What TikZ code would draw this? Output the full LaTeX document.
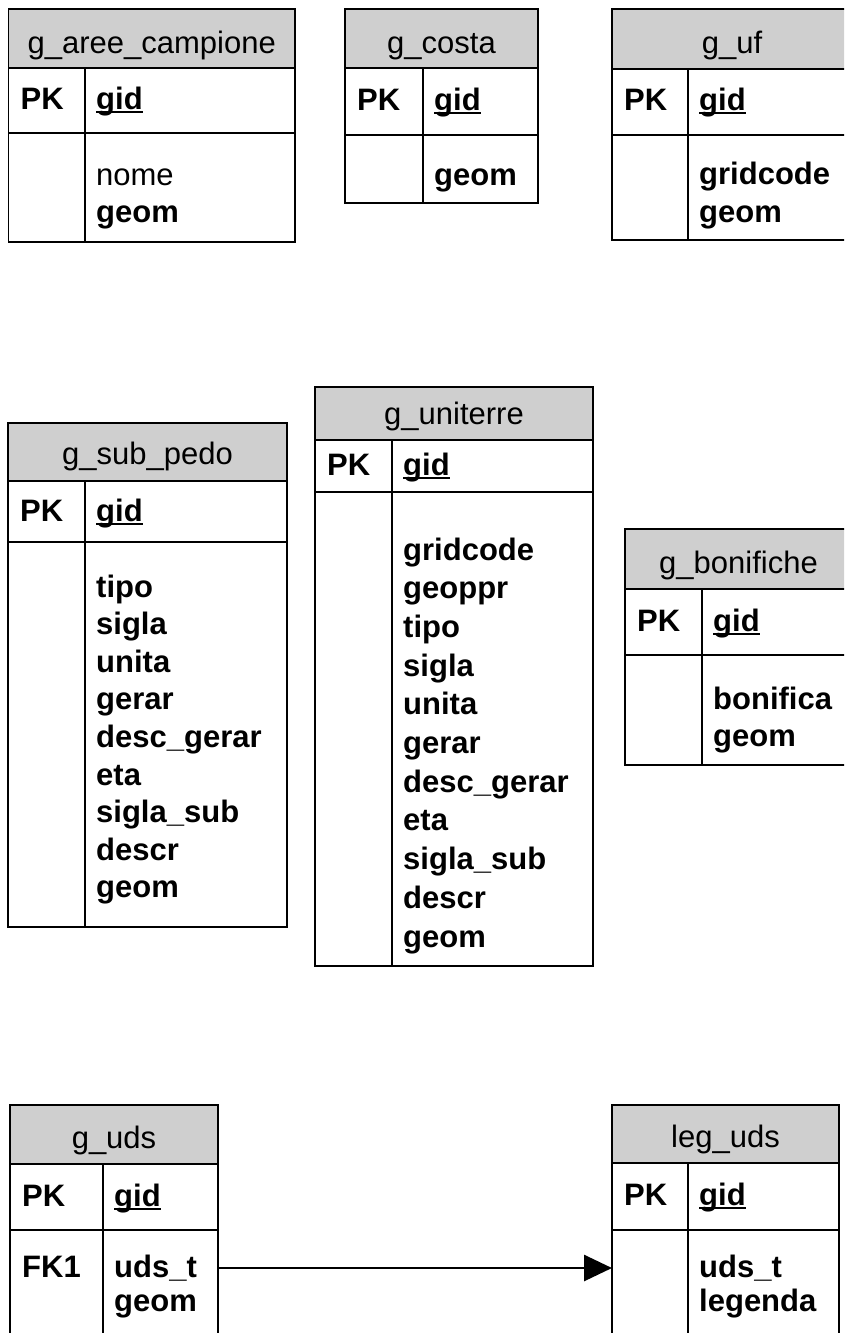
\documentclass[tikz,border=0pt]{standalone}
\usepackage{fontspec}
\setmainfont{Liberation Sans}
\usetikzlibrary{arrows.meta}
\definecolor{hdrgray}{HTML}{CFCFCF}
\newcommand\pkul[1]{\setbox0\hbox{#1}\rlap{\rule[-4pt]{\wd0}{2pt}}\box0}
\tikzset{
 tline/.style={line width=1.8pt},
 tbox/.style={draw, line width=1.8pt, inner sep=0pt, outer sep=0pt, rectangle},
 ttl/.style={font=\fontsize{31}{36}\selectfont, anchor=base, inner sep=0pt},
 key/.style={font=\fontsize{31}{36}\selectfont\bfseries, anchor=base west, inner sep=0pt},
 fld/.style={font=\fontsize{31}{36}\selectfont\bfseries, anchor=base west, inner sep=0pt},
 fldr/.style={font=\fontsize{31}{36}\selectfont, anchor=base west, inner sep=0pt},
 conn/.style={line width=2.8pt, -{Triangle[length=28pt,width=26pt]}},
}
% name, L, R, D, T, H, P, B
\newcommand\ertable[8]{%
 \fill[hdrgray] (#2,#5) rectangle (#3,#6);
 \draw[tline] (#2,#6) -- (#3,#6) (#2,#7) -- (#3,#7) (#4,#6) -- (#4,#8);
 \node[tbox, anchor=north west, minimum width={#3pt-#2pt}, minimum height={#8pt-#5pt}] (#1) at (#2,#5) {};
}
\begin{document}
\begin{tikzpicture}[x=1pt,y=-1pt]
\useasboundingbox (0,0) rectangle (844,1333);
\clip (0,0) rectangle (844,1333);

% g_aree_campione
\ertable{aree}{8.5}{295}{85}{9}{68}{133}{242}
\node[ttl] (aree-t) at (151.75,53) {g\_aree\_campione};
\node[key] (aree-k) at (20.5,109) {PK};
\node[fld] (aree-id) at (96,109) {\pkul{gid}};
\node[fldr] (aree-f0) at (96,185) {nome};
\node[fld] (aree-f1) at (96,222) {geom};

% g_costa
\ertable{costa}{345}{538}{423}{9}{68}{135}{203}
\node[ttl] (costa-t) at (441.5,53) {g\_costa};
\node[key] (costa-k) at (357,110) {PK};
\node[fld] (costa-id) at (434,110) {\pkul{gid}};
\node[fld] (costa-f0) at (434,185) {geom};

% g_uf
\ertable{uf}{612}{852}{688}{9}{69}{135}{240}
\node[ttl] (uf-t) at (732,53) {g\_uf};
\node[key] (uf-k) at (624,110) {PK};
\node[fld] (uf-id) at (699,110) {\pkul{gid}};
\node[fld] (uf-f0) at (699,184) {gridcode};
\node[fld] (uf-f1) at (699,222) {geom};

% g_sub_pedo
\ertable{sub}{8}{287}{85}{423}{481}{542}{927}
\node[ttl] (sub-t) at (147.5,464) {g\_sub\_pedo};
\node[key] (sub-k) at (20,521) {PK};
\node[fld] (sub-id) at (96,521) {\pkul{gid}};
\foreach \t [count=\i from 0] in {tipo,sigla,unita,gerar,desc\_gerar,eta,sigla\_sub,descr,geom}
  \node[fld] (sub-f\i) at (96,{597+37.6*\i}) {\t};

% g_uniterre
\ertable{uni}{315}{593}{392}{387}{440}{492}{966}
\node[ttl] (uni-t) at (454,424) {g\_uniterre};
\node[key] (uni-k) at (327,475) {PK};
\node[fld] (uni-id) at (403,475) {\pkul{gid}};
\foreach \t [count=\i from 0] in {gridcode,geoppr,tipo,sigla,unita,gerar,desc\_gerar,eta,sigla\_sub,descr,geom}
  \node[fld] (uni-f\i) at (403,{560+38.7*\i}) {\t};

% g_bonifiche
\ertable{bon}{625}{852}{702}{529}{589}{655}{765}
\node[ttl] (bon-t) at (738.5,573) {g\_bonifiche};
\node[key] (bon-k) at (637,631) {PK};
\node[fld] (bon-id) at (713,631) {\pkul{gid}};
\node[fld] (bon-f0) at (713,709) {bonifica};
\node[fld] (bon-f1) at (713,746) {geom};

% g_uds
\ertable{uds}{10}{218}{103}{1105}{1164}{1230}{1400}
\node[ttl] (uds-t) at (114,1148) {g\_uds};
\node[key] (uds-k) at (22,1206) {PK};
\node[fld] (uds-id) at (114,1206) {\pkul{gid}};
\node[key] (uds-fk) at (22,1277) {FK1};
\node[fld] (uds-f0) at (114,1277) {uds\_t};
\node[fld] (uds-f1) at (114,1311) {geom};

% leg_uds
\ertable{leg}{612}{839}{688}{1105}{1163}{1230}{1400}
\node[ttl] (leg-t) at (725.5,1147) {leg\_uds};
\node[key] (leg-k) at (624,1205) {PK};
\node[fld] (leg-id) at (699,1205) {\pkul{gid}};
\node[fld] (leg-f0) at (699,1277) {uds\_t};
\node[fld] (leg-f1) at (699,1311) {legenda};

% relation
\coordinate (rel) at (0,1268);
\draw[conn] (uds.east |- rel) -- (leg.west |- rel);
\end{tikzpicture}
\end{document}
